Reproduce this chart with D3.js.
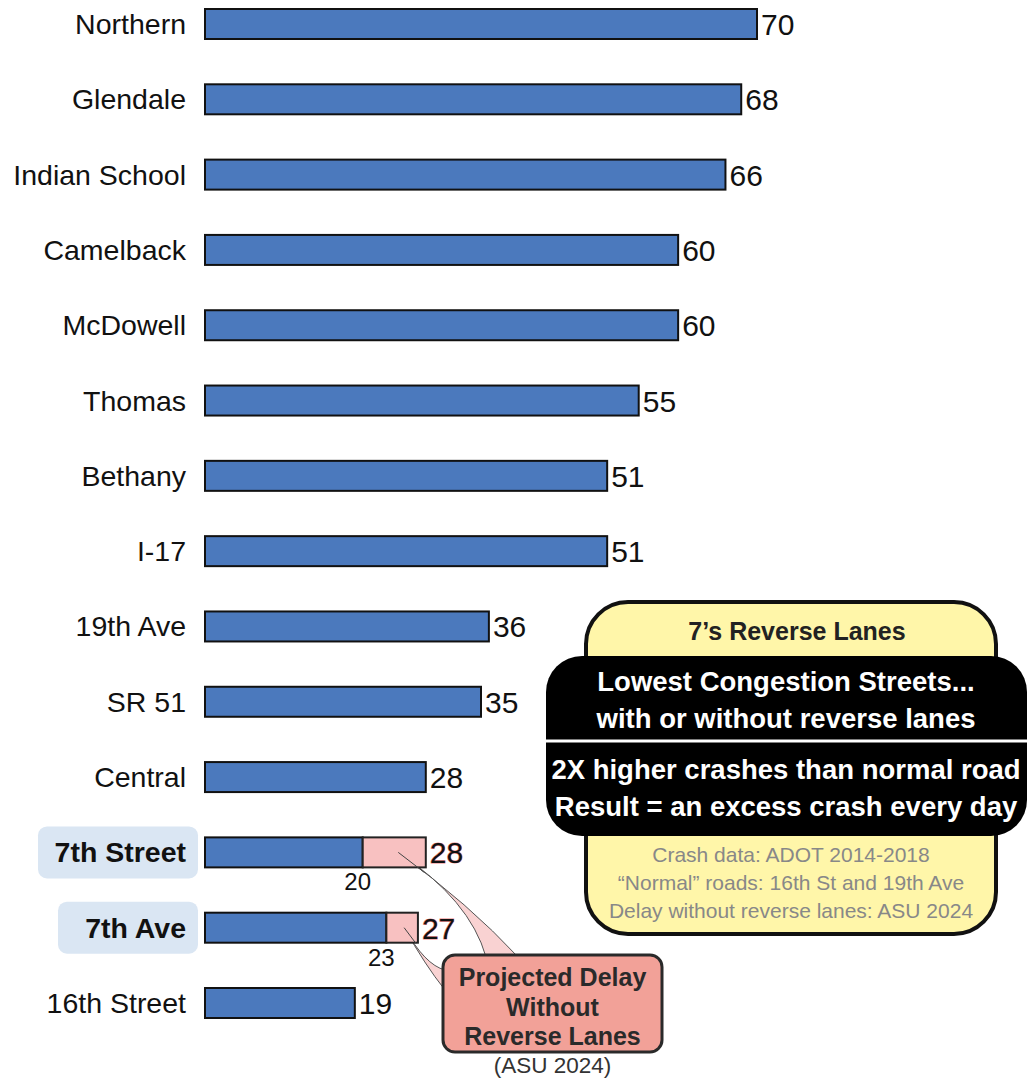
<!DOCTYPE html>
<meta charset="utf-8">
<title>Congestion</title>
<style>
  body { margin: 0; background: #fff; }
  text { font-family: "Liberation Sans", Arial, sans-serif; }
</style>
<script src="https://d3js.org/d3.v7.min.js"></script>
<body>
<div id="chart"></div>
<script>

// streets, top to bottom
var streets = ["Northern", "Glendale", "Indian School", "Camelback", "McDowell", "Thomas",
               "Bethany", "I-17", "19th Ave", "SR 51", "Central", "7th Street", "7th Ave", "16th Street"];
// delay values
var delays = [70, 68, 66, 60, 60, 55, 51, 51, 36, 35, 28, 28, 27, 19];
// delay with reverse lanes (only for the reverse lane streets)
var withLanes = [null, null, null, null, null, null, null, null, null, null, null, 20, 23, null];
var highlighted = ["7th Street", "7th Ave"];

var infoTitle = "7\u2019s Reverse Lanes";
var infoLines = ["Lowest Congestion Streets...", "with or without reverse lanes",
                 "2X higher crashes than normal road", "Result = an excess crash every day"];
var sourceLines = ["Crash data: ADOT 2014-2018", "\u201cNormal\u201d roads: 16th St and 19th Ave",
                   "Delay without reverse lanes: ASU 2024"];
var calloutLines = ["Projected Delay", "Without", "Reverse Lanes"];
var calloutNote = "(ASU 2024)";

var width = 1027, height = 1078;

var svg = d3.select("#chart").append("svg")
    .attr("width", width)
    .attr("height", height);

var data = streets.map(function(s, i) {
  return {name: s, value: delays[i], base: withLanes[i], hi: highlighted.indexOf(s) >= 0};
});

// scales
var x = d3.scaleLinear().domain([0, 70]).range([205, 757]);
var y = d3.scalePoint().domain(streets).range([24, 1003]);
var barH = 30;

// highlight boxes behind labels
var hiBox = {"7th Street": [38, 198], "7th Ave": [58, 198]};
svg.selectAll(".hibox")
  .data(data.filter(function(d) { return d.hi; }))
  .enter().append("rect")
    .attr("x", function(d) { return hiBox[d.name][0]; })
    .attr("y", function(d) { return y(d.name) - 26; })
    .attr("width", function(d) { return hiBox[d.name][1] - hiBox[d.name][0]; })
    .attr("height", 52)
    .attr("rx", 9)
    .attr("fill", "#dae6f3");

// category labels
svg.selectAll(".cat")
  .data(data)
  .enter().append("text")
    .attr("x", 186)
    .attr("y", function(d) { return y(d.name) + 10; })
    .attr("text-anchor", "end")
    .attr("font-size", 28.5)
    .attr("font-weight", function(d) { return d.hi ? "bold" : "normal"; })
    .attr("fill", "#111")
    .text(function(d) { return d.name; });

// callout wedges (drawn before bars so the bars sit on top)
var callout = {x: 443, y: 955, w: 219, h: 97};
var wedgeData = data.filter(function(d) { return d.base != null; });
var w1 = wedgeData[0], w2 = wedgeData[1];
var p1 = [x((w1.base + w1.value) / 2) + 4, y(w1.name)];
var p2 = [x((w2.base + w2.value) / 2) + 2, y(w2.name)];

svg.append("path")
  .attr("d", "M" + p1[0] + "," + p1[1] +
             " Q" + 470 + "," + 900 + " " + 486 + "," + (callout.y + 2) +
             " L" + 518 + "," + (callout.y + 2) +
             " Q" + 470 + "," + 905 + " " + p1[0] + "," + p1[1] + "Z")
  .attr("fill", "#f9d2d2")
  .attr("stroke", "#555")
  .attr("stroke-width", 1);

svg.append("path")
  .attr("d", "M" + p2[0] + "," + p2[1] +
             " Q" + 425 + "," + 965 + " " + (callout.x + 2) + "," + 970 +
             " L" + (callout.x + 2) + "," + 990 +
             " Q" + 425 + "," + 965 + " " + p2[0] + "," + p2[1] + "Z")
  .attr("fill", "#f9d2d2")
  .attr("stroke", "#555")
  .attr("stroke-width", 1);

// bars
var rows = svg.selectAll(".row")
  .data(data)
  .enter().append("g");

rows.append("rect")
    .attr("x", x(0))
    .attr("y", function(d) { return y(d.name) - barH / 2; })
    .attr("width", function(d) { return x(d.base != null ? d.base : d.value) - x(0); })
    .attr("height", barH)
    .attr("fill", "#4b79bd")
    .attr("stroke", "#111")
    .attr("stroke-width", 2);

rows.filter(function(d) { return d.base != null; })
  .append("rect")
    .attr("x", function(d) { return x(d.base); })
    .attr("y", function(d) { return y(d.name) - barH / 2; })
    .attr("width", function(d) { return x(d.value) - x(d.base); })
    .attr("height", barH)
    .attr("fill", "#f8c1c1")
    .attr("stroke", "#222")
    .attr("stroke-width", 2);

// pointer lines inside pink segments
svg.append("line")
  .attr("x1", p1[0]).attr("y1", p1[1]).attr("x2", p1[0] + 26).attr("y2", p1[1] + 20)
  .attr("stroke", "#444").attr("stroke-width", 1);
svg.append("line")
  .attr("x1", p2[0]).attr("y1", p2[1]).attr("x2", p2[0] + 12).attr("y2", p2[1] + 16)
  .attr("stroke", "#444").attr("stroke-width", 1);

// value labels
rows.append("text")
    .attr("x", function(d) { return x(d.value) + 4; })
    .attr("y", function(d) { return y(d.name) + 11; })
    .attr("font-size", 30)
    .attr("fill", "#111")
    .attr("stroke", function(d) { return d.base != null ? "#ef8080" : "none"; })
    .attr("stroke-width", 1)
    .attr("paint-order", "stroke")
    .text(function(d) { return d.value; });

// base labels under the split bars
rows.filter(function(d) { return d.base != null; })
  .append("text")
    .attr("x", function(d) { return x(d.base) - 5; })
    .attr("y", function(d) { return y(d.name) + 38; })
    .attr("text-anchor", "middle")
    .attr("font-size", 24)
    .attr("fill", "#111")
    .text(function(d) { return d.base; });

// callout box
svg.append("rect")
  .attr("x", callout.x).attr("y", callout.y)
  .attr("width", callout.w).attr("height", callout.h)
  .attr("rx", 12)
  .attr("fill", "#f2a198")
  .attr("stroke", "#2a2a2a")
  .attr("stroke-width", 3);

svg.selectAll(".cl")
  .data(calloutLines)
  .enter().append("text")
    .attr("x", callout.x + callout.w / 2)
    .attr("y", function(d, i) { return 986 + i * 29.5; })
    .attr("text-anchor", "middle")
    .attr("font-size", 25)
    .attr("font-weight", "bold")
    .attr("fill", "#2a2a2a")
    .text(function(d) { return d; });

svg.append("text")
  .attr("x", callout.x + callout.w / 2)
  .attr("y", 1073)
  .attr("text-anchor", "middle")
  .attr("font-size", 22.5)
  .attr("fill", "#333")
  .text(calloutNote);

// info box
svg.append("rect")
  .attr("x", 586).attr("y", 602)
  .attr("width", 410).attr("height", 332)
  .attr("rx", 42)
  .attr("fill", "#fff6a9")
  .attr("stroke", "#111")
  .attr("stroke-width", 4);

svg.append("text")
  .attr("x", 797).attr("y", 640)
  .attr("text-anchor", "middle")
  .attr("font-size", 25)
  .attr("font-weight", "bold")
  .attr("fill", "#222")
  .text(infoTitle);

svg.append("rect")
  .attr("x", 546).attr("y", 656)
  .attr("width", 481).attr("height", 180)
  .attr("rx", 36)
  .attr("fill", "#000");

svg.append("line")
  .attr("x1", 546).attr("x2", 1027)
  .attr("y1", 741).attr("y2", 741)
  .attr("stroke", "#fff")
  .attr("stroke-width", 3);

svg.selectAll(".info")
  .data(infoLines)
  .enter().append("text")
    .attr("x", 786)
    .attr("y", function(d, i) { return [691, 728, 779, 816][i]; })
    .attr("text-anchor", "middle")
    .attr("font-size", 27.5)
    .attr("font-weight", "bold")
    .attr("fill", "#fff")
    .text(function(d) { return d; });

svg.selectAll(".src")
  .data(sourceLines)
  .enter().append("text")
    .attr("x", 791)
    .attr("y", function(d, i) { return 862 + i * 28; })
    .attr("text-anchor", "middle")
    .attr("font-size", 21)
    .attr("fill", "#888")
    .text(function(d) { return d; });

</script>
</body>
